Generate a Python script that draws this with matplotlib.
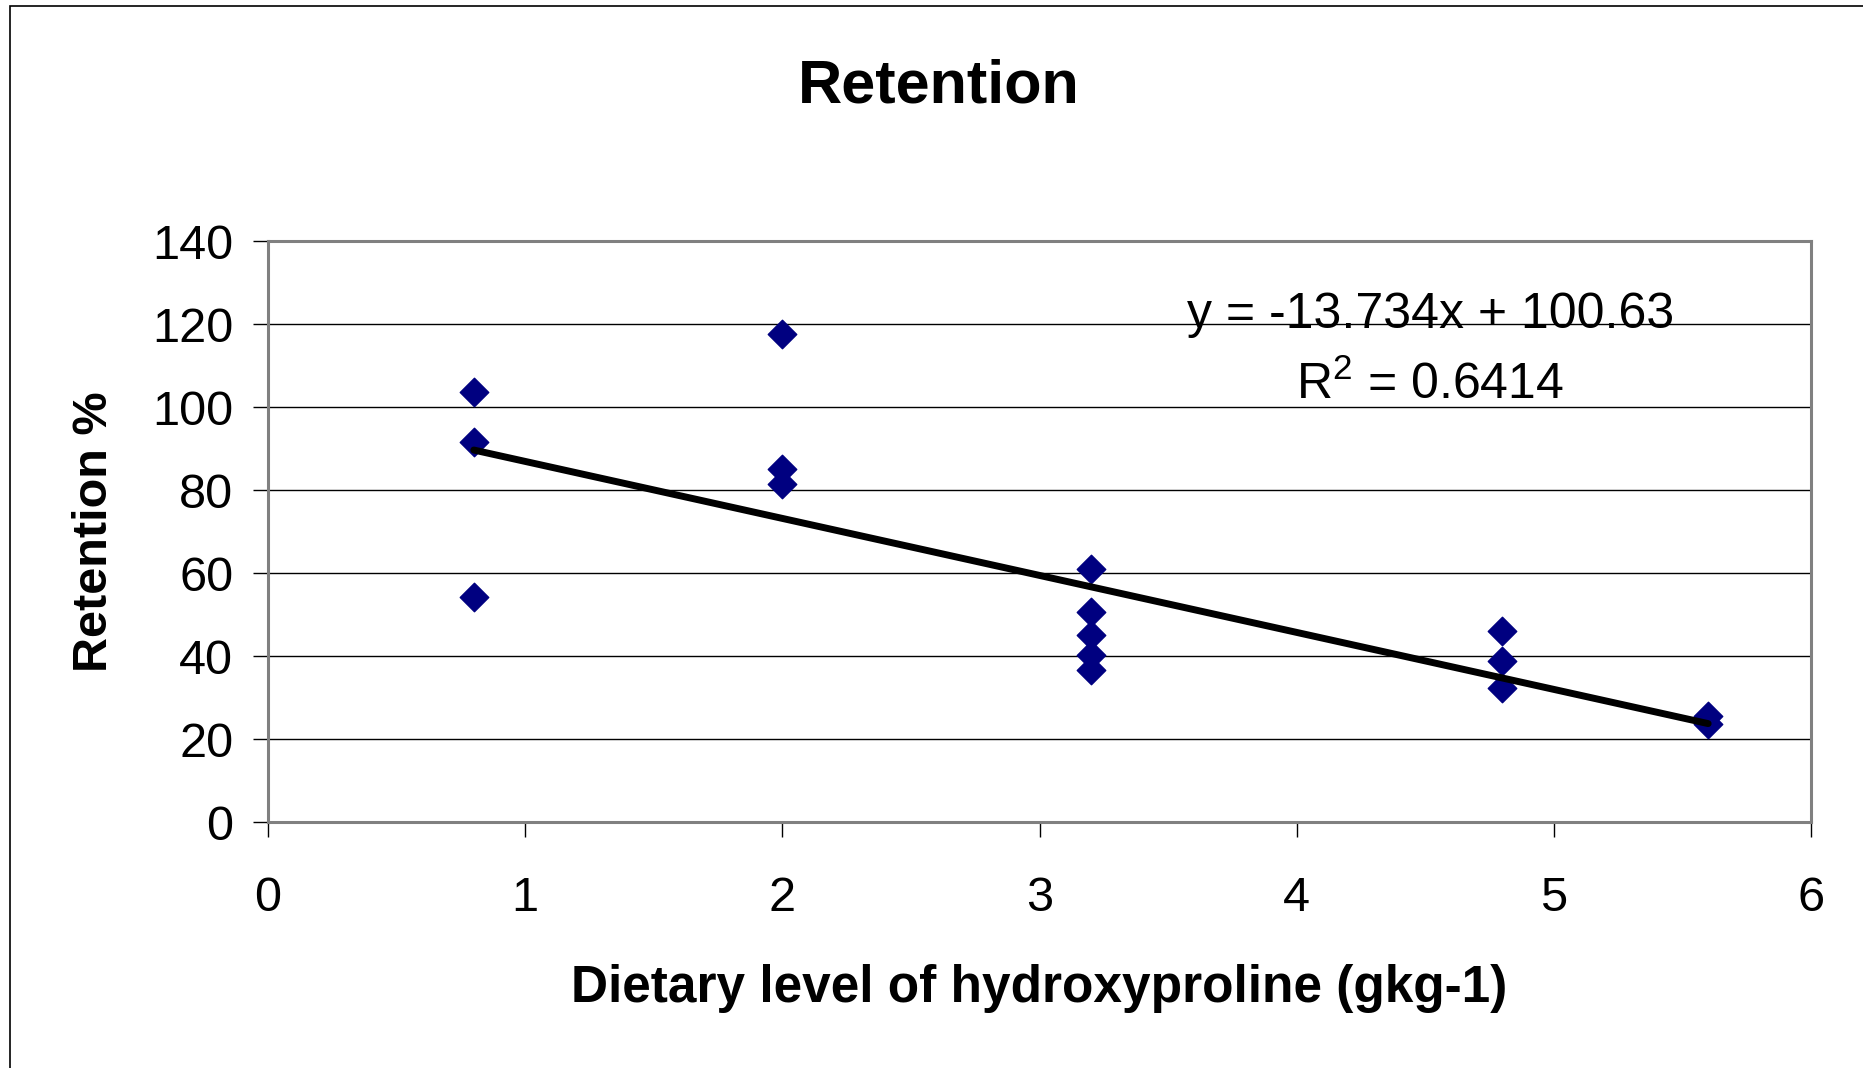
# Retention vs dietary hydroxyproline, scatter with linear trend line
import matplotlib.pyplot as plt
import matplotlib.patches as patches
import numpy as np

plt.rcParams['font.family'] = ['Liberation Sans', 'DejaVu Sans']
plt.rcParams['mathtext.fontset'] = 'custom'
plt.rcParams['mathtext.rm'] = 'Liberation Sans'

# data
hyp_level = [0.8, 0.8, 0.8,
             2.0, 2.0, 2.0,
             3.2, 3.2, 3.2, 3.2, 3.2,
             4.8, 4.8, 4.8,
             5.6, 5.6]
retention = [103.7, 91.5, 54.3,
             117.6, 85.0, 81.4,
             60.9, 50.7, 45.0, 40.3, 36.7,
             46.0, 38.7, 32.2,
             25.6, 23.7]

slope = -13.734
intercept = 100.63
r_squared = 0.6414

xticks = [0, 1, 2, 3, 4, 5, 6]
yticks = [0, 20, 40, 60, 80, 100, 120, 140]

fig = plt.figure(figsize=(18.63, 10.68), dpi=100)
ax = fig.add_axes([0.1439, 0.2303, 0.8282, 0.5440])

# outer chart border (only left and top show in the original crop)
fig.patches.append(patches.Rectangle((10 / 1863, -0.1), 1.2, 1.1 - 6 / 1068,
                                     transform=fig.transFigure, fill=False,
                                     edgecolor='black', linewidth=1.2))

ax.scatter(hyp_level, retention, marker='D', s=14.5 ** 2, color='#000080',
           edgecolors='#000080', zorder=3)

x_fit = np.array([min(hyp_level), max(hyp_level)])
ax.plot(x_fit, slope * x_fit + intercept, color='black', linewidth=5,
        solid_capstyle='round', zorder=4)

ax.text(4.52, 119.1, 'y = -13.734x + 100.63', ha='center', va='baseline', fontsize=36)
ax.text(4.52, 102.0, r'R$^2$ = %.4f' % r_squared, ha='center', va='baseline', fontsize=36)

ax.set_xlim(0, 6)
ax.set_ylim(0, 140)
ax.set_xticks(xticks)
ax.set_yticks(yticks)
ax.tick_params(axis='both', labelsize=35, length=11, width=1, color='black')
ax.tick_params(axis='y', pad=14)
ax.tick_params(axis='x', pad=28)

ax.grid(axis='y', color='black', linewidth=1)
ax.set_axisbelow(True)
for sp in ax.spines.values():
    sp.set_color('#808080')
    sp.set_linewidth(2.2)

ax.set_xlabel('Dietary level of hydroxyproline (gkg-1)', fontsize=37,
              fontweight='bold', labelpad=31)
ax.set_ylabel('Retention %', fontsize=35, fontweight='bold', labelpad=25)
fig.text(0.504, 1 - 87 / 1068, 'Retention', ha='center', va='center',
         fontsize=44, fontweight='bold')

fig.savefig('out.png', dpi=100)
